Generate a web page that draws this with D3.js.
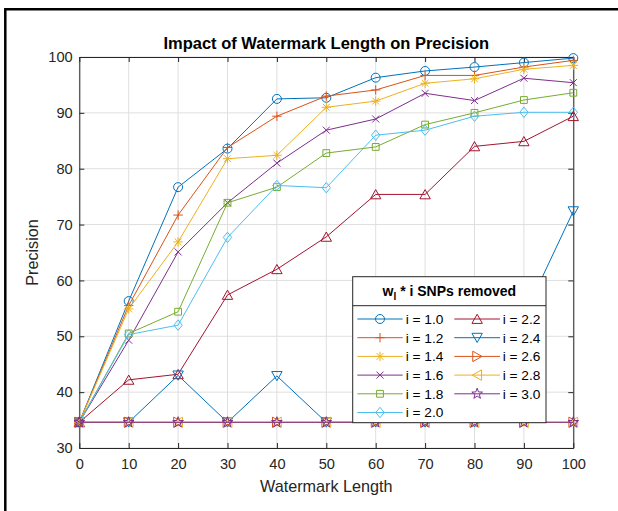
<!DOCTYPE html>
<html>
<head>
<meta charset="utf-8">
<script src="https://cdn.jsdelivr.net/npm/d3@7"></script>
<style>
  html, body { margin: 0; padding: 0; background: #fff; }
  svg { display: block; font-family: "Liberation Sans", Arial, Helvetica, sans-serif; }
</style>
</head>
<body>
<svg id="chart" width="618" height="511"></svg>
<script>
// Watermark length (x) and precision for each SNP-removal multiplier i
const watermarkLength = [0, 10, 20, 30, 40, 50, 60, 70, 80, 90, 100];
const xTicks = [0, 10, 20, 30, 40, 50, 60, 70, 80, 90, 100];
const yTicks = [30, 40, 50, 60, 70, 80, 90, 100];

const prec_i10 = [34.6, 56.3, 76.7, 83.6, 92.5, 92.7, 96.3, 97.5, 98.2, 99.0, 99.8];
const prec_i12 = [34.6, 55.5, 71.7, 83.8, 89.4, 93.0, 94.1, 96.7, 96.7, 98.2, 99.4];
const prec_i14 = [34.6, 54.9, 66.9, 81.8, 82.4, 91.0, 92.1, 95.3, 96.1, 97.8, 98.5];
const prec_i16 = [34.6, 49.3, 65.1, 73.9, 81.0, 86.9, 88.9, 93.5, 92.2, 96.2, 95.4];
const prec_i18 = [34.6, 50.5, 54.4, 73.9, 76.7, 82.8, 83.9, 87.9, 90.0, 92.3, 93.6];
const prec_i20 = [34.6, 50.3, 52.0, 67.7, 77.0, 76.6, 86.0, 86.9, 89.4, 90.1, 90.1];
const prec_i22 = [34.6, 42.2, 43.2, 57.4, 62.0, 67.8, 75.4, 75.4, 84.0, 84.9, 89.4];
const prec_i24 = [34.6, 34.6, 43.0, 34.6, 42.9, 34.6, 34.6, 34.6, 34.6, 53.6, 72.4];
const prec_i26 = [34.6, 34.6, 34.6, 34.6, 34.6, 34.6, 34.6, 34.6, 34.6, 34.6, 34.6];
const prec_i28 = [34.6, 34.6, 34.6, 34.6, 34.6, 34.6, 34.6, 34.6, 34.6, 34.6, 34.6];
const prec_i30 = [34.6, 34.6, 34.6, 34.6, 34.6, 34.6, 34.6, 34.6, 34.6, 34.6, 34.6];

const seriesNames = ["i = 1.0", "i = 1.2", "i = 1.4", "i = 1.6", "i = 1.8", "i = 2.0",
                     "i = 2.2", "i = 2.4", "i = 2.6", "i = 2.8", "i = 3.0"];
const seriesValues = [prec_i10, prec_i12, prec_i14, prec_i16, prec_i18, prec_i20,
                      prec_i22, prec_i24, prec_i26, prec_i28, prec_i30];
const seriesColors = ["#0072BD", "#D95319", "#EDB120", "#7E2F8E", "#77AC30", "#4DBEEE",
                      "#A2142F", "#0072BD", "#D95319", "#EDB120", "#7E2F8E"];
const seriesMarkers = ["o", "+", "*", "x", "s", "d", "^", "v", ">", "<", "p"];

const svg = d3.select("#chart");

// outer figure frame
svg.append("path")
  .attr("d", "M5.3,511V9.3H618")
  .attr("fill", "none").attr("stroke", "#000").attr("stroke-width", 2.5);

const plot = { left: 79.3, right: 573.3, top: 57, bottom: 448 };
const x = d3.scaleLinear().domain([0, 100]).range([plot.left, plot.right]);
const y = d3.scaleLinear().domain([30, 100]).range([plot.bottom, plot.top]);

// grid
const grid = svg.append("g").attr("stroke", "#dfdfdf").attr("stroke-width", 1);
xTicks.forEach(t => grid.append("line")
  .attr("x1", x(t)).attr("x2", x(t)).attr("y1", plot.top).attr("y2", plot.bottom));
yTicks.forEach(t => grid.append("line")
  .attr("x1", plot.left).attr("x2", plot.right).attr("y1", y(t)).attr("y2", y(t)));

// axes (ticks point inward on all four sides)
const axisColor = "#262626";
const tickFont = "14.6px";
function styleAxis(g) {
  g.select(".domain").attr("stroke", axisColor).attr("stroke-width", 1);
  g.selectAll(".tick line").attr("stroke", axisColor).attr("stroke-width", 1);
  g.selectAll(".tick text").attr("fill", axisColor).style("font-size", tickFont)
    .style("font-family", "'Liberation Sans', Arial, sans-serif");
}
svg.append("g").attr("transform", `translate(0,${plot.bottom})`)
  .call(d3.axisBottom(x).tickValues(xTicks).tickSizeInner(-5).tickSizeOuter(0).tickPadding(11))
  .call(styleAxis);
svg.append("g").attr("transform", `translate(${plot.left},0)`)
  .call(d3.axisLeft(y).tickValues(yTicks).tickSizeInner(-5).tickSizeOuter(0).tickPadding(6.6))
  .call(styleAxis);
svg.append("g").attr("transform", `translate(0,${plot.top})`)
  .call(d3.axisTop(x).tickValues(xTicks).tickSizeInner(-5).tickSizeOuter(0).tickFormat(""))
  .call(styleAxis);
svg.append("g").attr("transform", `translate(${plot.right},0)`)
  .call(d3.axisRight(y).tickValues(yTicks).tickSizeInner(-5).tickSizeOuter(0).tickFormat(""))
  .call(styleAxis);

// marker shapes, centred on the data point
function markerPath(m) {
  switch (m) {
    case "o": return "M4.5,0A4.5,4.5 0 1,1 -4.5,0A4.5,4.5 0 1,1 4.5,0Z";
    case "+": return "M-4.7,0H4.7M0,-4.7V4.7";
    case "*": return "M-4.7,0H4.7M0,-4.7V4.7M-3.4,-3.4L3.4,3.4M-3.4,3.4L3.4,-3.4";
    case "x": return "M-3.5,-3.5L3.5,3.5M-3.5,3.5L3.5,-3.5";
    case "s": return "M-3.4,-3.4H3.4V3.4H-3.4Z";
    case "d": return "M0,-5.2L4.2,0L0,5.2L-4.2,0Z";
    case "^": return "M0,-4.8L5.2,4.4H-5.2Z";
    case "v": return "M0,4.8L5.2,-4.4H-5.2Z";
    case ">": return "M4.8,0L-4.4,5.2V-5.2Z";
    case "<": return "M-4.8,0L4.4,5.2V-5.2Z";
    case "p": {
      const pts = [];
      for (let k = 0; k < 10; k++) {
        const r = k % 2 === 0 ? 5.6 : 2.3;
        const a = -Math.PI / 2 + k * Math.PI / 5;
        pts.push([r * Math.cos(a), r * Math.sin(a)]);
      }
      return "M" + pts.map(p => p[0].toFixed(2) + "," + p[1].toFixed(2)).join("L") + "Z";
    }
  }
  return "";
}

const line = d3.line().x(d => x(d[0])).y(d => y(d[1]));

seriesValues.forEach((vals, si) => {
  const pts = watermarkLength.map((w, k) => [w, vals[k]]);
  const g = svg.append("g");
  g.append("path").datum(pts).attr("d", line)
    .attr("fill", "none").attr("stroke", seriesColors[si]).attr("stroke-width", 1);
  g.selectAll("path.mk").data(pts).enter().append("path")
    .attr("class", "mk")
    .attr("transform", d => `translate(${x(d[0])},${y(d[1])})`)
    .attr("d", markerPath(seriesMarkers[si]))
    .attr("fill", "none").attr("stroke", seriesColors[si]).attr("stroke-width", 1);
});

// titles
svg.append("text").attr("x", (plot.left + plot.right) / 2).attr("y", 49.3)
  .attr("text-anchor", "middle").style("font-size", "16.5px").style("font-weight", "bold")
  .attr("fill", "#000").text("Impact of Watermark Length on Precision");
svg.append("text").attr("x", (plot.left + plot.right) / 2).attr("y", 492)
  .attr("text-anchor", "middle").style("font-size", "16.2px")
  .attr("fill", axisColor).text("Watermark Length");
svg.append("text").attr("transform", `translate(37.5,${(plot.top + plot.bottom) / 2}) rotate(-90)`)
  .attr("text-anchor", "middle").style("font-size", "16.2px")
  .attr("fill", axisColor).text("Precision");

// legend
const lg = { left: 352.7, right: 546, top: 276.7, sep: 305.7, bottom: 422.7 };
const legend = svg.append("g");
legend.append("rect").attr("x", lg.left).attr("y", lg.top)
  .attr("width", lg.right - lg.left).attr("height", lg.bottom - lg.top)
  .attr("fill", "#fff").attr("stroke", axisColor).attr("stroke-width", 1);
legend.append("line").attr("x1", lg.left).attr("x2", lg.right)
  .attr("y1", lg.sep).attr("y2", lg.sep).attr("stroke", axisColor).attr("stroke-width", 1);

const lt = legend.append("text").attr("x", (lg.left + lg.right) / 2).attr("y", 295.5)
  .attr("text-anchor", "middle").style("font-size", "14px").style("font-weight", "bold")
  .attr("fill", "#000");
lt.append("tspan").text("w");
lt.append("tspan").attr("dy", 4).style("font-size", "10px").text("l");
lt.append("tspan").attr("dy", -4).text(" * i SNPs removed");

const rows = 6;
const colX = [{ l1: 357.3, l2: 402.7, tx: 405.7 }, { l1: 454.3, l2: 500, tx: 502.7 }];
seriesNames.forEach((name, si) => {
  const c = colX[Math.floor(si / rows)];
  const ry = 319 + (si % rows) * 18.7;
  const e = legend.append("g");
  e.append("line").attr("x1", c.l1).attr("x2", c.l2).attr("y1", ry).attr("y2", ry)
    .attr("stroke", seriesColors[si]).attr("stroke-width", 1);
  e.append("path").attr("transform", `translate(${(c.l1 + c.l2) / 2},${ry})`)
    .attr("d", markerPath(seriesMarkers[si]))
    .attr("fill", "none").attr("stroke", seriesColors[si]).attr("stroke-width", 1);
  e.append("text").attr("x", c.tx).attr("y", ry).attr("dy", "0.36em")
    .style("font-size", "13.7px").attr("fill", "#000").text(name);
});
</script>
</body>
</html>
